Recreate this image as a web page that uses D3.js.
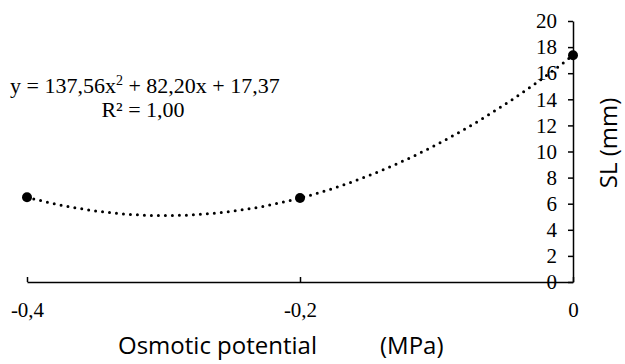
<!DOCTYPE html>
<html>
<head>
<meta charset="utf-8">
<script src="https://cdn.jsdelivr.net/npm/d3@7"></script>
<style>
    body { margin: 0; background: #fff; }
    svg { display: block; }
</style>
</head>
<body>
<svg class="canvas" width="625" height="364"></svg>
<script>
// observed points
const potential = [-0.4, -0.2, 0];
const shootLength = [6.50, 6.43, 17.37];

// quadratic trendline shown on the chart: a*x^2 + b*x + c
const trendCoef = [137.56, 82.20, 17.37];
const equationText = ['y = 137,56x', '2', ' + 82,20x + 17,37'];
const r2Text = 'R² = 1,00';

const xTicks = [-0.4, -0.2, 0];
const xTickLabels = ['-0,4', '-0,2', '0'];
const yTicks = [0, 2, 4, 6, 8, 10, 12, 14, 16, 18, 20];

const canvas = d3.select('.canvas');

const x = d3.scaleLinear().domain([-0.4, 0]).range([27, 573]);
const y = d3.scaleLinear().domain([0, 20]).range([282, 21]);

const serif = 'Liberation Serif, Times New Roman, serif';
const sans = 'Open Sans, Noto Sans, sans-serif';

// x axis
canvas.append('g')
    .attr('transform', `translate(0, ${y(0)})`)
    .call(d3.axisBottom(x)
        .tickValues(xTicks)
        .tickFormat((d, i) => xTickLabels[i])
        .tickSizeInner(-5)
        .tickSizeOuter(0)
        .tickPadding(20))
    .attr('font-family', serif)
    .attr('font-size', 21)
    .call(g => g.select('.domain').attr('stroke', '#000').attr('stroke-width', 1.5))
    .call(g => g.selectAll('.tick line').attr('stroke-width', 1.5))
    .call(g => g.selectAll('text').attr('fill', '#000'));

// y axis (on the right, at x = 0)
canvas.append('g')
    .attr('transform', `translate(${x(0)}, 0)`)
    .call(d3.axisLeft(y)
        .tickValues(yTicks)
        .tickSizeInner(5)
        .tickSizeOuter(0)
        .tickPadding(11))
    .attr('font-family', serif)
    .attr('font-size', 21)
    .call(g => g.select('.domain').attr('stroke', '#000').attr('stroke-width', 1.5))
    .call(g => g.selectAll('.tick line').attr('stroke-width', 1.5))
    .call(g => g.selectAll('text').attr('fill', '#000'));

// trendline
const trendX = d3.range(-0.4, 0.0001, 0.005);
const trend = d3.line()
    .x(d => x(d))
    .y(d => y(trendCoef[0] * d * d + trendCoef[1] * d + trendCoef[2]));

canvas.append('path')
    .datum(trendX)
    .attr('d', trend)
    .attr('fill', 'none')
    .attr('stroke', '#000')
    .attr('stroke-width', 3)
    .attr('stroke-linecap', 'round')
    .attr('stroke-dasharray', '0 7');

// points
canvas.selectAll('circle.pt')
    .data(potential)
    .enter()
    .append('circle')
    .attr('class', 'pt')
    .attr('cx', d => x(d))
    .attr('cy', (d, i) => y(shootLength[i]))
    .attr('r', 5)
    .attr('fill', '#000');

// equation label
const eq = canvas.append('text')
    .attr('x', 10)
    .attr('y', 93)
    .attr('font-family', serif)
    .attr('font-size', 22)
    .attr('fill', '#000');
eq.append('tspan').text(equationText[0]);
eq.append('tspan').attr('font-size', 14).attr('dy', -8).text(equationText[1]);
eq.append('tspan').attr('dy', 8).text(equationText[2]);

canvas.append('text')
    .attr('x', 143)
    .attr('y', 117)
    .attr('text-anchor', 'middle')
    .attr('font-family', serif)
    .attr('font-size', 22)
    .attr('fill', '#000')
    .text(r2Text);

// axis titles
canvas.append('text')
    .attr('x', 118)
    .attr('y', 354)
    .attr('font-family', sans)
    .attr('font-size', 24)
    .attr('fill', '#000')
    .text('Osmotic potential');
canvas.append('text')
    .attr('x', 380)
    .attr('y', 354)
    .attr('font-family', sans)
    .attr('font-size', 24)
    .attr('fill', '#000')
    .text('(MPa)');

canvas.append('text')
    .attr('transform', `translate(617, 143) rotate(-90)`)
    .attr('text-anchor', 'middle')
    .attr('font-family', sans)
    .attr('font-size', 24)
    .attr('fill', '#000')
    .text('SL (mm)');
</script>
</body>
</html>
